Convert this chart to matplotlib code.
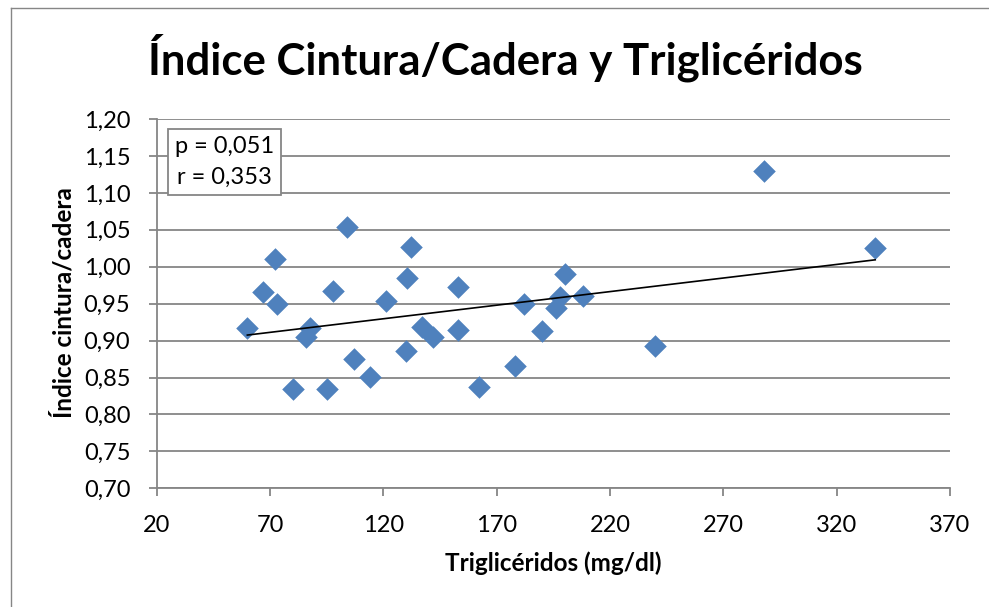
import matplotlib
matplotlib.use("Agg")
import matplotlib.pyplot as plt
from matplotlib.lines import Line2D
import numpy as np

# triglycerides (mg/dl) vs waist/hip index
trig = [60, 67, 72, 73, 87.5, 86, 80, 95, 98, 104, 107, 114, 121, 132, 130.5,
        130, 137, 142, 153, 153, 162, 178, 182, 190, 196, 198, 200, 208, 240,
        288, 337]
icc = [0.917, 0.966, 1.010, 0.950, 0.917, 0.905, 0.834, 0.834, 0.967, 1.054,
       0.875, 0.851, 0.954, 1.027, 0.985, 0.886, 0.919, 0.905, 0.972, 0.915,
       0.837, 0.866, 0.950, 0.913, 0.944, 0.959, 0.990, 0.960, 0.893, 1.129,
       1.026]

x_ticks = [20, 70, 120, 170, 220, 270, 320, 370]
y_ticks = [0.70, 0.75, 0.80, 0.85, 0.90, 0.95, 1.00, 1.05, 1.10, 1.15, 1.20]
stats_text = "p = 0,051\nr = 0,353"

W, H = 989, 607
GREY = "#868686"
BLUE = "#4F81BD"
FONT = "Lato"
TICK_FS = 17
LABEL_FS = 17.5

fig = plt.figure(figsize=(W / 100, H / 100), dpi=100)
ax = fig.add_axes([156.7 / W, 1 - 488.3 / H, (950 - 156.7) / W, (488.3 - 119) / H])

# outer chart border: only its left and top edges fall inside the picture
fig.lines.append(Line2D([11 / W, 11 / W], [-0.1, 1 - 8 / H], transform=fig.transFigure,
                        color=GREY, linewidth=1.0))
fig.lines.append(Line2D([11 / W, 1.1], [1 - 8 / H, 1 - 8 / H], transform=fig.transFigure,
                        color=GREY, linewidth=1.0))

# grid
for yv in y_ticks:
    ax.axhline(yv, color=GREY, linewidth=1.3, zorder=1)

ax.scatter(trig, icc, marker="D", s=11.5 ** 2, color=BLUE, linewidths=0, zorder=3)

# linear trendline over the data range
coef = np.polyfit(trig, icc, 1)
xs = np.array([min(trig), max(trig)])
ax.plot(xs, np.polyval(coef, xs), color="black", linewidth=1.2, zorder=4)

ax.set_xlim(20, 370)
ax.set_ylim(0.70, 1.20)
ax.set_xticks(x_ticks)
ax.set_yticks(y_ticks)
ax.set_xticklabels([str(v) for v in x_ticks])
ax.set_yticklabels([f"{v:.2f}".replace(".", ",") for v in y_ticks])

for side in ["top", "right"]:
    ax.spines[side].set_visible(False)
for side in ["left", "bottom"]:
    ax.spines[side].set_color(GREY)
    ax.spines[side].set_linewidth(1.3)

ax.tick_params(axis="both", direction="out", length=6, width=1.3, color=GREY,
               labelsize=TICK_FS)
ax.tick_params(axis="x", pad=13)
ax.tick_params(axis="y", pad=13)
for lbl in ax.get_xticklabels() + ax.get_yticklabels():
    lbl.set_fontfamily(FONT)

fig.text(553 / W, 1 - 563 / H, "Triglicéridos (mg/dl)", ha="center", va="center",
         fontsize=LABEL_FS, fontweight="bold", family=FONT)
fig.text(64 / W, 1 - 303 / H, "Índice cintura/cadera", ha="center", va="center",
         rotation=90, fontsize=LABEL_FS, fontweight="bold", family=FONT)

fig.text(505 / W, 1 - 58 / H, "Índice Cintura/Cadera y Triglicéridos",
         ha="center", va="center", fontsize=31.5, fontweight="bold", family=FONT)

ax.text(0.0857, 0.8836, stats_text, transform=ax.transAxes,
        ha="center", va="center", fontsize=TICK_FS, family=FONT, linespacing=1.55,
        zorder=5,
        bbox=dict(boxstyle="square,pad=0.3", facecolor="white",
                  edgecolor=GREY, linewidth=1.3))

fig.savefig("out.png", dpi=100)
